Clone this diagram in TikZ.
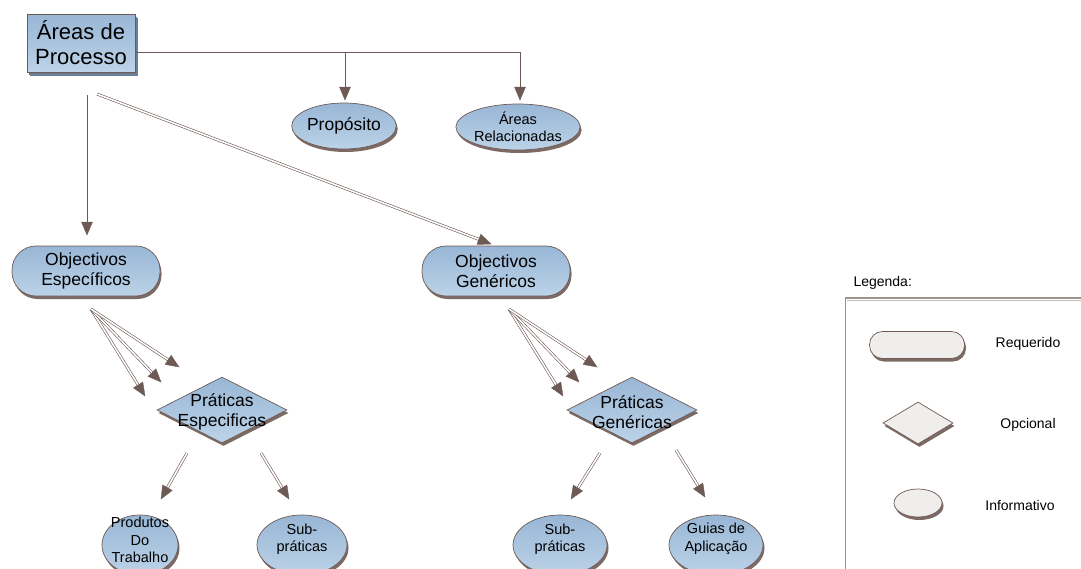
\documentclass[tikz,border=0pt]{standalone}
\usepackage{fontspec}
\setmainfont{Liberation Sans}
\usetikzlibrary{shapes.geometric,shadows,calc}
\definecolor{linec}{HTML}{6E5A55}
\definecolor{shadc}{HTML}{7D6A64}
\definecolor{bluetop}{HTML}{98B6D5}
\definecolor{bluebot}{HTML}{BCD3E8}
\definecolor{greyfill}{HTML}{EFEEEC}
\definecolor{framec}{HTML}{9C928E}
\tikzset{
  base/.style={draw=linec, line width=0.7pt, align=center, inner sep=0pt,
    top color=bluetop, bottom color=bluebot,
    drop shadow={shadow xshift=1.5pt, shadow yshift=-3pt, fill=shadc, opacity=1}},
  boxnode/.style={base, rectangle, minimum width=108pt, minimum height=58pt,
    drop shadow={shadow xshift=3pt, shadow yshift=-4pt, fill=bluetop!70!black, opacity=1}},
  reqnode/.style={base, rectangle, rounded corners=24pt, minimum width=148pt, minimum height=50pt},
  optnode/.style={base, diamond, aspect=2, minimum width=130pt, minimum height=66pt},
  infonode/.style={base, ellipse},
  legend/.style={top color=greyfill, bottom color=greyfill},
  conn/.style={draw=linec, line width=0.9pt},
  dblline/.style={draw=linec, line width=0.6pt, double=white, double distance=1.6pt},
  headfill/.style={fill=linec, draw=linec, line width=0.4pt, line join=miter},
  big/.style={font=\fontsize{22}{25}\selectfont, align=center},
  mid/.style={font=\fontsize{17.5}{20}\selectfont, align=center},
  small/.style={font=\fontsize{14.5}{17.5}\selectfont, align=center},
  leg/.style={font=\fontsize{14}{16}\selectfont}
}
% solid triangular head at #2, pointing away from #1
\newcommand{\arrhead}[2]{%
  \path ($(#2)!13pt!(#1)$) coordinate (hb);
  \draw[headfill] (#2) -- ($(hb)!5.5pt!90:(#2)$) -- ($(hb)!5.5pt!-90:(#2)$) -- cycle;}
% plain connector with a head
\newcommand{\sglarr}[2]{%
  \draw[conn] (#1) -- ($(#2)!11pt!(#1)$);
  \arrhead{#1}{#2}}
% double-lined connector with a head
\newcommand{\dblarr}[2]{%
  \draw[dblline] (#1) -- ($(#2)!11pt!(#1)$);
  \arrhead{#1}{#2}}
\begin{document}
\begin{tikzpicture}[x=1pt,y=-1pt]
\useasboundingbox (0,0) rectangle (1081,568);

% top level
\node[boxnode, big] (ap) at (81,43) {Áreas de\\Processo};
\node[infonode, mid, minimum width=102pt, minimum height=46pt] (pr) at (344,126) {Propósito};
\node[infonode, small, minimum width=110pt, minimum height=46pt] (ar) at (518,127) {Áreas\\Relacionadas};

% goals
\node[reqnode, mid] (oe) at (86,271) {Objectivos\\Específicos};
\node[reqnode, mid] (og) at (496,271) {Objectivos\\Genéricos};

% practices
\node[optnode] (pe) at (222,410) {};
\node[mid] at (222,412) {Práticas\\Especificas};
\node[optnode] (pg) at (632,410) {};
\node[mid] at (632,412) {Práticas\\Genéricas};

% informative components
\node[infonode, minimum width=76pt, minimum height=60pt] (pt) at (140,545) {};
\node[small] at (140,540) {Produtos\\Do\\Trabalho};
\node[infonode, minimum width=90pt, minimum height=60pt] (se) at (302,545) {};
\node[small] at (302,539) {Sub-\\práticas};
\node[infonode, minimum width=94pt, minimum height=60pt] (sg) at (560,545) {};
\node[small] at (560,539) {Sub-\\práticas};
\node[infonode, minimum width=94pt, minimum height=60pt] (ga) at (716,545) {};
\node[small] at (716,539) {Guias de\\Aplicação};

% connectors from the process area
\coordinate (apout) at (135,52);
\coordinate (jpr) at (345,52);
\coordinate (jar) at (520,52);
\coordinate (tpr) at (345,100);
\coordinate (tar) at (520,100);
\draw[conn] (apout) -- (jar);
\sglarr{jpr}{tpr}
\sglarr{jar}{tar}
\coordinate (s1) at (87,95);
\coordinate (t1) at (87,235);
\sglarr{s1}{t1}
\coordinate (s2) at (97,94);
\coordinate (t2) at (491,244);
\dblarr{s2}{t2}

% fan of arrows towards the practices
\coordinate (fe) at (91,309);
\coordinate (fe1) at (145,396);
\coordinate (fe2) at (161,382);
\coordinate (fe3) at (179,367);
\dblarr{fe}{fe1}
\dblarr{fe}{fe2}
\dblarr{fe}{fe3}
\coordinate (fg) at (509,309);
\coordinate (fg1) at (563,396);
\coordinate (fg2) at (579,382);
\coordinate (fg3) at (597,367);
\dblarr{fg}{fg1}
\dblarr{fg}{fg2}
\dblarr{fg}{fg3}

% arrows down to the informative components
\coordinate (pea) at (187,453);
\coordinate (pet) at (161,499);
\coordinate (peb) at (261,453);
\coordinate (pes) at (289,499);
\coordinate (pga) at (600,453);
\coordinate (pgt) at (571,499);
\coordinate (pgb) at (676,450);
\coordinate (pgs) at (705,497);
\dblarr{pea}{pet}
\dblarr{peb}{pes}
\dblarr{pga}{pgt}
\dblarr{pgb}{pgs}

% legend
\node[leg, anchor=west] (lt) at (850,283) {Legenda:};
\draw[framec, line width=1.4pt] (845.5,570) -- (845.5,298) -- (1083,298);
\draw[framec!60, line width=0.5pt] (847,300.5) -- (1083,300.5);
\node[base, legend, rectangle, rounded corners=13pt, minimum width=95pt, minimum height=27pt] (lreq) at (917,345) {};
\node[leg] (lreqt) at (1028,344) {Requerido};
\node[base, legend, diamond, aspect=1.65, minimum width=70pt, minimum height=42pt] (lopt) at (918,423) {};
\node[leg] (loptt) at (1028,425) {Opcional};
\node[base, legend, ellipse, minimum width=48pt, minimum height=28pt] (linf) at (918,503) {};
\node[leg] (linft) at (1020,505) {Informativo};
\end{tikzpicture}
\end{document}
